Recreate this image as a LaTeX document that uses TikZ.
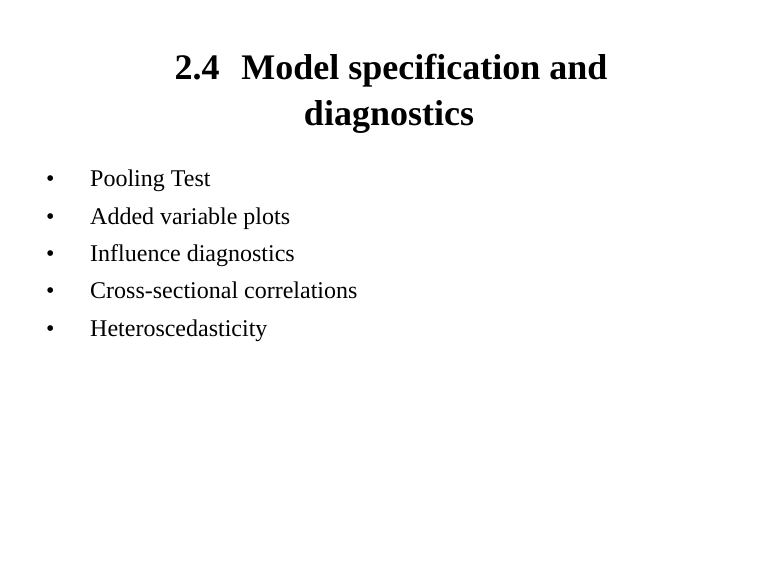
\documentclass[tikz,border=0pt]{standalone}
\usepackage{fontspec}
\setmainfont{Liberation Serif}
\begin{document}
\begin{tikzpicture}[x=1pt,y=1pt,
  item/.style={anchor=base west,inner sep=0pt,font=\fontsize{24}{28}\selectfont},
  dot/.style={anchor=base west,inner sep=0pt,font=\fontsize{24}{28}\selectfont},
  ttl/.style={anchor=base,inner sep=0pt,font=\fontsize{36}{40}\selectfont\bfseries}]
\useasboundingbox[fill=white] (0,0) rectangle (778,576);
\node[ttl] (t1) at (391,576-80) {2.4\hspace{0.6em}Model specification and};
\node[ttl] (t2) at (389,576-126) {diagnostics};
\foreach \i/\txt in {1/Pooling Test,2/Added variable plots,3/Influence diagnostics,4/Cross-sectional correlations,5/Heteroscedasticity}{
  \node[dot] (d\i) at (46,576-187-37.3*\i+37.3) {•};
  \node[item] (b\i) at (90,576-187-37.3*\i+37.3) {\txt};
}
\end{tikzpicture}
\end{document}
